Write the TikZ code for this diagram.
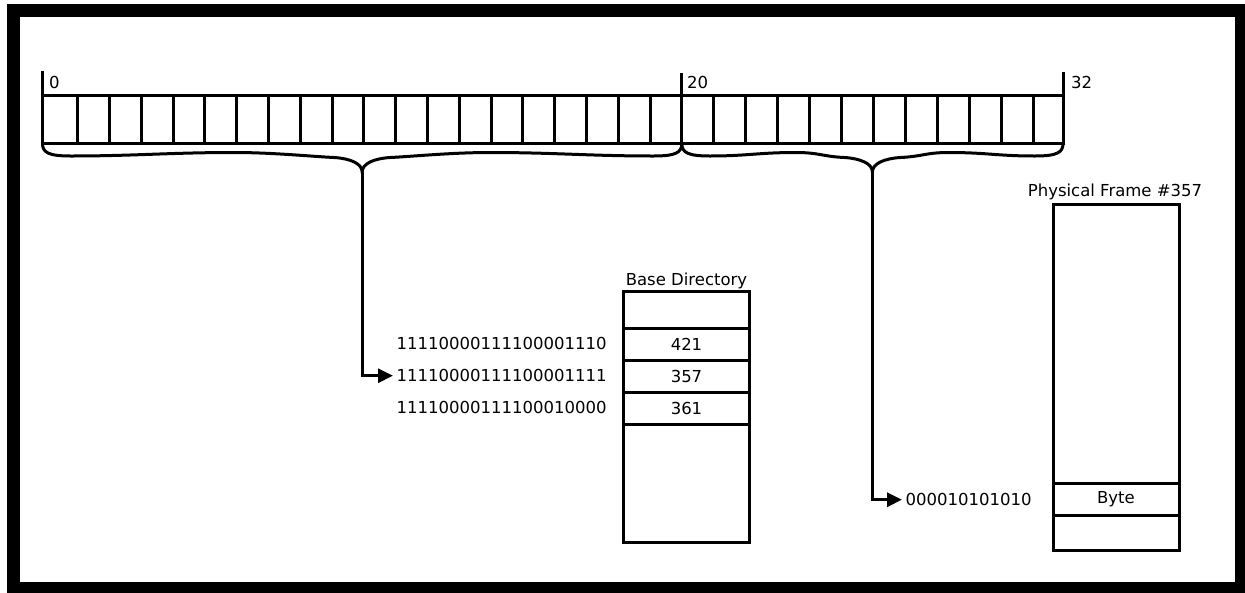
\documentclass[tikz,border=0pt]{standalone}
\usepackage{fontspec}
\setmainfont{DejaVu Sans}
\usetikzlibrary{arrows.meta}
\tikzset{
  ln/.style={line width=3pt},
  cell/.style={draw, line width=3pt, minimum width=125.5pt, inner sep=0pt, anchor=center},
  txt/.style={inner sep=0pt},
  bin/.style={inner xsep=3.5pt, inner ysep=0pt, anchor=base west},
  arr/.style={line width=3pt, -{Triangle[length=15pt,width=14pt]}},
}
\newcommand\drawbrace[4]{% #1 left x, #2 right x, #3 top y, #4 tip name
  \pgfmathsetmacro\bL{#1}\pgfmathsetmacro\bR{#2}\pgfmathsetmacro\bw{(#2-#1)/2}%
  \pgfmathsetmacro\yo{#3}%
  \draw[ln] (\bL,\yo) .. controls (\bL,\yo+9) and (\bL+6,\yo+12.5) .. (\bL+28,\yo+12.5)
    .. controls (\bL+28+0.2*\bw,\yo+12.5) and (\bL+0.4*\bw,\yo+9) .. (\bL+0.6*\bw,\yo+9)
    .. controls (\bL+0.72*\bw,\yo+9) and (\bL+\bw-50,\yo+13) .. (\bL+\bw-28,\yo+14)
    .. controls (\bL+\bw-12,\yo+15) and (\bL+\bw,\yo+20) .. (\bL+\bw,\yo+28.5) coordinate (#4)
    .. controls (\bR-\bw,\yo+20) and (\bR-\bw+12,\yo+15) .. (\bR-\bw+28,\yo+14)
    .. controls (\bR-\bw+50,\yo+13) and (\bR-0.72*\bw,\yo+9) .. (\bR-0.6*\bw,\yo+9)
    .. controls (\bR-0.4*\bw,\yo+9) and (\bR-28-0.2*\bw,\yo+12.5) .. (\bR-28,\yo+12.5)
    .. controls (\bR-6,\yo+12.5) and (\bR,\yo+9) .. (\bR,\yo);
}
\begin{document}
\begin{tikzpicture}[x=1pt,y=-1pt,font=\fontsize{16.5}{20}\selectfont]
\useasboundingbox (0,0) rectangle (1245,592);
\clip (0,0) rectangle (1245,592);
\fill[white] (0,0) rectangle (1245,592);
\draw[line width=13pt] (13.5,10.5) rectangle (1241.5,588.5);

% register
\draw[ln] (42.5,95) rectangle (1063,143.5);
\foreach \k in {1,...,20} { \draw[ln] ({45.8+31.8*\k},95) -- ({45.8+31.8*\k},143.5); }
\foreach \j in {1,...,11} { \draw[ln] ({681.8+32*\j},95) -- ({681.8+32*\j},143.5); }
\draw[ln] (42.5,71) -- (42.5,95);
\draw[ln] (681.8,72.5) -- (681.8,95);
\draw[ln] (1063,72) -- (1063,95);
\node[txt, anchor=base west] (l0) at (49,88.3) {0};
\node[txt, anchor=base west] (l20) at (687,88.3) {20};
\node[txt, anchor=base west] (l32) at (1071,88.3) {32};

% braces
\drawbrace{42.5}{681.8}{143.5}{tipA}
\drawbrace{681.8}{1063}{143.5}{tipB}

% base directory
\node[txt, anchor=base] (bdlab) at (686.5,285) {Base Directory};
\node[cell, minimum height=36.5pt] (bd0) at (686.5,309.75) {};
\node[cell, minimum height=32pt] (bd1) at (686.5,344) {421};
\node[cell, minimum height=32.5pt] (bd2) at (686.5,376.25) {357};
\node[cell, minimum height=31.8pt] (bd3) at (686.5,408.4) {361};
\node[cell, minimum height=118.2pt] (bd4) at (686.5,483.4) {};

\node[bin] (b1) at (393,349.3) {11110000111100001110};
\node[bin] (b2) at (393,381.7) {11110000111100001111};
\node[bin] (b3) at (393,413.3) {11110000111100010000};

% physical frame
\node[txt, anchor=base] (pflab) at (1115,196) {Physical Frame \#357};
\node[cell, minimum width=126pt, minimum height=279.2pt] (pf0) at (1116,343.9) {};
\node[cell, minimum width=126pt, minimum height=31.5pt] (pf1) at (1116,499.25) {Byte};
\node[cell, minimum width=126pt, minimum height=35pt] (pf2) at (1116,532.5) {};

\node[bin] (off) at (902,505.7) {000010101010};

% connectors
\draw[arr] (tipA) |- (b2.west);
\draw[arr] (tipB) |- (off.west);
\end{tikzpicture}
\end{document}
